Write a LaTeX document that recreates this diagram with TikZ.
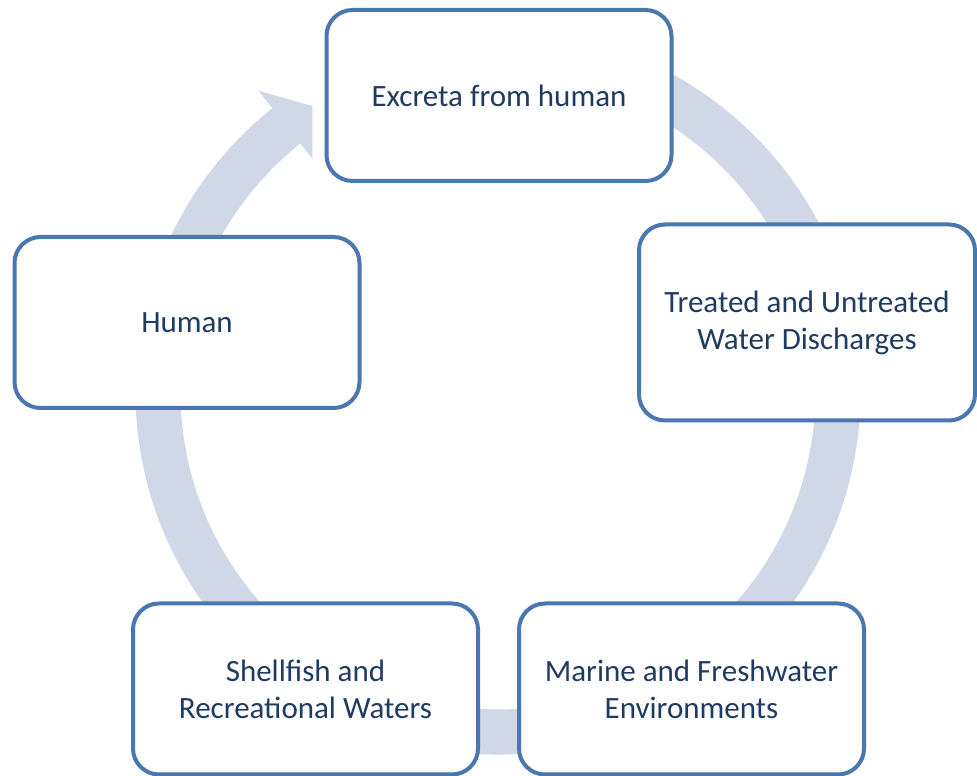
\documentclass[tikz,border=0pt]{standalone}
\usepackage{fontspec}
\setmainfont{Carlito}
\definecolor{boxline}{HTML}{4A77AF}
\definecolor{band}{HTML}{D0D8E8}
\definecolor{txt}{HTML}{1F3B63}
\begin{document}
\begin{tikzpicture}[x=1pt,y=1pt,
  stage/.style={draw=boxline, line width=4pt, fill=white, rounded corners=26pt,
    minimum width=345pt, minimum height=171pt, align=center, text=txt,
    font=\fontsize{31}{37}\selectfont, inner sep=0pt}]
\useasboundingbox (0,0) rectangle (977,776);
% circular arrow
\begin{scope}[shift={(498,384)}]
\fill[band] (100:362.5pt) arc[start angle=100, end angle=-231.5, radius=362.5pt]
  -- (128.5:385pt) -- (123:341pt) -- (128.5:298pt) -- (128.5:317.5pt)
  arc[start angle=-231.5, end angle=100, radius=317.5pt] -- cycle;
\end{scope}
% boxes
\node[stage] (excreta) at (499,680.5) {Excreta from human};
\node[stage, minimum width=336pt, minimum height=196pt] (treated) at (807,453.5) {Treated and Untreated\\Water Discharges};
\node[stage] (marine) at (691.5,87) {Marine and Freshwater\\Environments};
\node[stage] (shellfish) at (305.5,87) {Shellfish and\\Recreational Waters};
\node[stage] (human) at (187,453.5) {Human};
\end{tikzpicture}
\end{document}
